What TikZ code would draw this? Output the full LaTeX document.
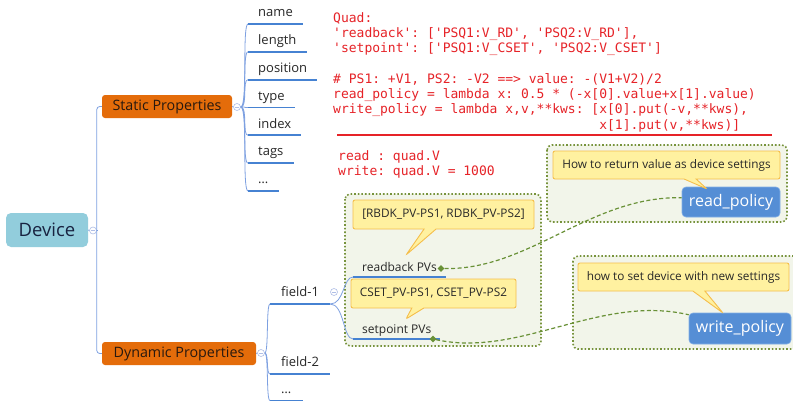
\documentclass[tikz,border=0pt]{standalone}
\usepackage{fontspec}
\setmainfont{Open Sans}
\setmonofont{DejaVu Sans Mono}
\usepackage{xcolor}
\usetikzlibrary{shapes.geometric,shapes.callouts}

\definecolor{devblue}{RGB}{146,205,220}
\definecolor{devtext}{RGB}{25,35,65}
\definecolor{toporange}{RGB}{228,108,10}
\definecolor{toptext}{RGB}{40,25,15}
\definecolor{branchblue}{RGB}{125,160,225}
\definecolor{lineblue}{RGB}{70,130,210}
\definecolor{togcol}{RGB}{175,190,230}
\definecolor{boxgreen}{RGB}{119,147,60}
\definecolor{boxfill}{RGB}{242,245,234}
\definecolor{noteyellow}{RGB}{255,241,160}
\definecolor{noteborder}{RGB}{245,190,75}
\definecolor{polblue}{RGB}{85,142,213}
\definecolor{polborder}{RGB}{130,175,230}
\definecolor{linkgreen}{RGB}{105,145,55}
\definecolor{codered}{RGB}{230,35,40}
\definecolor{labeltext}{RGB}{40,40,40}

\tikzset{
    topic/.style={rounded corners=3pt, inner sep=0pt, fill=toporange, text=toptext,
                  font=\fontsize{14.3}{16}\selectfont, minimum height=23pt},
    leaf/.style={anchor=south west, inner xsep=10pt, inner ysep=0pt, text height=10pt,
                 text depth=7pt, text=labeltext, font=\fontsize{13}{15}\selectfont},
    pvleaf/.style={leaf, inner xsep=9pt, text depth=5.5pt, font=\fontsize{12}{14}\selectfont},
    leafline/.style={lineblue, line width=1.8pt},
    branch/.style={branchblue, line width=0.8pt},
    toggle/.style={circle, draw=togcol, fill=white, line width=0.6pt, minimum size=7pt, inner sep=0pt,
                   path picture={\draw[togcol, line width=0.6pt]
                     ([xshift=-2pt]path picture bounding box.center) --
                     ([xshift=2pt]path picture bounding box.center);}},
    group/.style={draw=boxgreen, fill=boxfill, dotted, line width=1.6pt, rounded corners=5pt},
    note/.style={rectangle callout, rounded corners=2pt, fill=noteyellow, draw=noteborder,
                 line width=0.9pt, callout pointer width=12pt, inner sep=0pt,
                 text=labeltext, font=\fontsize{11.8}{14}\selectfont},
    policy/.style={rounded corners=4pt, fill=polblue, draw=polborder, line width=0.6pt,
                   inner sep=0pt, text=white, font=\fontsize{16}{18}\selectfont},
    linkdot/.style={diamond, fill=linkgreen, minimum size=7pt, inner sep=0pt},
    link/.style={linkgreen, dashed, dash pattern=on 4pt off 2.5pt, line width=1.2pt}
}

\begin{document}
\begin{tikzpicture}[x=1pt,y=-1pt]
    \useasboundingbox[fill=white] (0,0) rectangle (793,402);

    % code notes
    \node[anchor=north west, inner sep=0pt, align=left, text=codered,
          font=\ttfamily\fontsize{13}{15.3}\selectfont] (code) at (333,12) {%
        Quad:\\
        'readback': ['PSQ1:V\_RD', 'PSQ2:V\_RD'],\\
        'setpoint': ['PSQ1:V\_CSET', 'PSQ2:V\_CSET']\\[15.3pt]
        \# PS1: +V1, PS2: -V2 ==> value: -(V1+V2)/2\\
        read\_policy = lambda x: 0.5 * (-x[0].value+x[1].value)\\
        write\_policy = lambda x,v,**kws: [x[0].put(-v,**kws),\\
        \phantom{write\_policy = lambda x,v,**kws: [}x[1].put(v,**kws)]};
    \coordinate (rule-l) at (337,135);
    \coordinate (rule-r) at (772,135);
    \draw[codered, line width=1.5pt] (rule-l) -- (rule-r);
    \node[anchor=north west, inner sep=0pt, align=left, text=codered,
          font=\ttfamily\fontsize{13}{15.3}\selectfont] (usage) at (338,150.5) {%
        read : quad.V\\
        write: quad.V = 1000};

    % groups
    \draw[group] (345,194) rectangle (541,346);
    \draw[group] (547,145) rectangle (787,222);
    \draw[group] (573,256) rectangle (798,349);

    % root and main topics
    \node[rounded corners=5pt, fill=devblue, text=devtext, inner sep=0pt,
          minimum width=82pt, minimum height=34pt, font=\fontsize{18.5}{20}\selectfont]
          (device) at (47,230) {Device};
    \node[topic, minimum width=130pt] (static) at (167,106.5) {Static Properties};
    \node[topic, minimum width=154pt] (dynamic) at (179,353.5) {Dynamic Properties};

    \node[toggle] (devtog) at (93,230.5) {};
    \node[toggle] (stattog) at (237,107) {};
    \node[toggle] (dyntog) at (261,353) {};
    \coordinate (trunk) at (97,230.5);

    \draw[branch] (device.east) -- (devtog.west);
    \draw[branch] (devtog.east) -- (trunk);
    \draw[branch, rounded corners=3pt] (static.west) -- ++(-5,0) |- (dynamic.west);
    \draw[branch] (static.east) -- (stattog.west);
    \draw[branch] (dynamic.east) -- (dyntog.west);

    % static properties
    \foreach \lbl [count=\i] in {name,length,position,type,index,tags,\ldots} {
        \node[leaf] (s\i) at (248,{24+(\i-1)*27.83}) {\lbl};
        \draw[leafline] (s\i.south west) -- (s\i.south east);
        \draw[branch] (stattog.east) .. controls +(7,0) and +(-6,0) .. (s\i.south west);
    }

    % dynamic properties
    \node[leaf, inner xsep=11pt] (f1) at (270,304) {field-1};
    \node[leaf, inner xsep=11pt] (f2) at (270,374) {field-2};
    \node[leaf, inner xsep=11pt] (f3) at (270,400.5) {\ldots};
    \foreach \f in {f1,f2,f3} {
        \draw[leafline] (\f.south west) -- (\f.south east);
        \draw[branch] (dyntog.east) .. controls +(4,0) and +(-4,0) .. (\f.south west);
    }
    \node[toggle] (f1tog) at (334,292) {};

    \node[pvleaf] (rb) at (353,277) {readback PVs};
    \node[pvleaf] (sp) at (353,339) {setpoint PVs};
    \foreach \pv in {rb,sp} {
        \draw[leafline] (\pv.south west) -- (\pv.south east);
        \draw[branch] (f1.south east) .. controls +(14,0) and +(-10,0) .. (\pv.south west);
    }

    % notes
    \node[note, minimum width=181pt, minimum height=29pt,
          callout absolute pointer={(406,255)}] (rbnote) at (443.5,214.5)
          {[RBDK\_PV-PS1, RDBK\_PV-PS2]};
    \node[note, minimum width=165pt, minimum height=29pt,
          callout absolute pointer={(406,319)}] (spnote) at (433.5,293.5)
          {CSET\_PV-PS1, CSET\_PV-PS2};

    % policies
    \node[policy, minimum width=98pt, minimum height=30pt] (readpol) at (731,202) {read\_policy};
    \node[policy, minimum width=102pt, minimum height=31pt] (writepol) at (740,328.5) {write\_policy};
    \node[note, minimum width=227pt, minimum height=28pt,
          callout absolute pointer={(707,189)}] (readnote) at (666.5,165)
          {How to return value as device settings};
    \node[note, minimum width=211pt, minimum height=28pt,
          callout absolute pointer={(723,313)}] (writenote) at (683.5,277)
          {how to set device with new settings};

    % links
    \node[linkdot] (rbdot) at (441,268.5) {};
    \node[linkdot] (spdot) at (433,339) {};
    \draw[link] (rbdot) .. controls (530,270) and (590,196) .. (readpol.175);
    \draw[link] (spdot) .. controls (520,358) and (600,294) .. (writepol.165);
\end{tikzpicture}
\end{document}
